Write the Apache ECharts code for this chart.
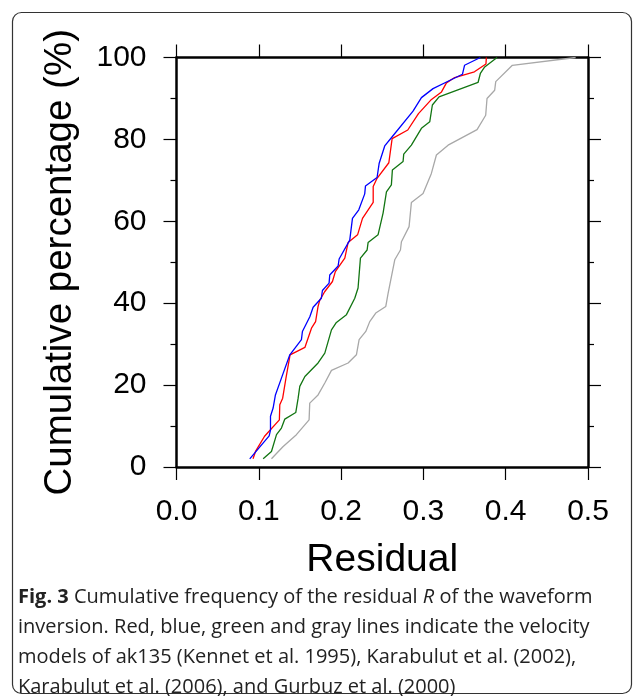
<!DOCTYPE html>
<html>
<head>
<meta charset="utf-8">
<script src="https://cdn.jsdelivr.net/npm/echarts@6/dist/echarts.min.js"></script>
<style>
  html, body { margin: 0; padding: 0; background: #fff; }
  #chart { width: 634px; height: 696px; }
</style>
</head>
<body>
<div id="chart"></div>
<script>
// axis ticks
const xTicks = [0.0, 0.1, 0.2, 0.3, 0.4, 0.5];
const yTicks = [0, 20, 40, 60, 80, 100];

// red: ak135 (Kennet et al. 1995)
const redR = [0.093, 0.096, 0.107, 0.125, 0.1255, 0.129, 0.133, 0.138, 0.156, 0.164, 0.169, 0.172, 0.174, 0.180, 0.1895, 0.193, 0.2045, 0.2085, 0.220, 0.226, 0.239, 0.239, 0.2437, 0.258, 0.262, 0.281, 0.294, 0.309, 0.322, 0.328, 0.338, 0.362, 0.376, 0.3765];
const redP = [2.0, 3.8, 7.5, 11.5, 15.2, 16.8, 21.7, 27.4, 29.2, 33.9, 35.5, 39.2, 40.7, 42.8, 45.3, 47.7, 51.0, 54.8, 56.7, 60.7, 64.6, 68.5, 70.5, 74.3, 80.2, 82.3, 86.3, 89.6, 91.6, 93.8, 95.1, 96.5, 98.4, 100];

// blue: Karabulut et al. (2002)
const blueR = [0.089, 0.1126, 0.1142, 0.1142, 0.1174, 0.1202, 0.1275, 0.1377, 0.1518, 0.153, 0.162, 0.166, 0.176, 0.1773, 0.1854, 0.1862, 0.1964, 0.1976, 0.2105, 0.2138, 0.2215, 0.2287, 0.2296, 0.2437, 0.2462, 0.253, 0.2623, 0.2874, 0.2976, 0.3117, 0.330, 0.3474, 0.350, 0.3692];
const blueP = [2.0, 7.6, 9.0, 12.4, 14.4, 17.6, 21.7, 27.4, 31.1, 33.1, 36.7, 39.0, 41.2, 43.1, 44.9, 46.9, 49.1, 50.8, 55.4, 60.7, 62.8, 66.7, 68.6, 70.7, 74.1, 78.4, 80.7, 86.9, 90.2, 92.4, 94.2, 95.9, 98.1, 100];

// green: Karabulut et al. (2006)
const greenR = [0.1053, 0.1154, 0.1215, 0.1275, 0.1316, 0.1449, 0.1478, 0.1498, 0.156, 0.172, 0.1802, 0.1883, 0.1943, 0.2065, 0.2166, 0.2206, 0.2235, 0.2316, 0.2328, 0.2449, 0.251, 0.2551, 0.2611, 0.2623, 0.2753, 0.2761, 0.2854, 0.2976, 0.3077, 0.3109, 0.319, 0.3664, 0.3692, 0.3745, 0.3895];
const greenP = [2.0, 3.8, 7.9, 9.5, 11.7, 13.3, 16.8, 19.7, 22.1, 25.4, 27.8, 33.5, 35.3, 37.2, 41.2, 43.7, 51.0, 53.0, 54.8, 56.7, 62.0, 67.2, 68.9, 72.5, 74.6, 76.4, 78.6, 82.7, 84.3, 88.4, 90.4, 93.9, 96.1, 97.7, 100];

// gray: Gurbuz et al. (2000)
const grayR = [0.1154, 0.1296, 0.1457, 0.1611, 0.1619, 0.172, 0.1802, 0.1883, 0.2085, 0.2186, 0.2219, 0.230, 0.2348, 0.2421, 0.2543, 0.2571, 0.2652, 0.2721, 0.2733, 0.2826, 0.2854, 0.2996, 0.3097, 0.3158, 0.330, 0.3652, 0.3757, 0.3773, 0.3866, 0.3879, 0.4081, 0.485];
const grayP = [2.0, 5.0, 7.9, 11.5, 15.6, 17.6, 20.5, 23.6, 25.4, 27.4, 31.1, 33.1, 35.5, 37.6, 39.2, 42.4, 50.6, 53.0, 55.0, 58.7, 64.6, 66.8, 71.7, 76.2, 78.6, 82.4, 85.9, 90.0, 92.0, 94.1, 98.1, 100];

const zip = (xs, ys) => xs.map((x, i) => [x, ys[i]]);

const fontFam = '"Liberation Sans", Arial, sans-serif';
const axisCommon = {
  type: 'value',
  axisLine: { show: true, onZero: false, lineStyle: { color: '#000', width: 2.5 } },
  axisTick: { show: true, inside: false, length: 13, lineStyle: { color: '#000', width: 1.2 } },
  splitLine: { show: false }
};

const chart = echarts.init(document.getElementById('chart'), null, { renderer: 'canvas' });

const makeLine = (name, xs, ys, color) => ({
  name: name,
  type: 'line',
  data: zip(xs, ys),
  showSymbol: false,
  symbol: 'none',
  lineStyle: { color: color, width: 1.3 },
  xAxisIndex: 0,
  yAxisIndex: 0
});

chart.setOption({
  animation: false,
  backgroundColor: '#fff',
  grid: { left: 176.5, right: 46, top: 57.5, bottom: 229, containLabel: false },
  xAxis: [
    Object.assign({}, axisCommon, {
      position: 'bottom',
      min: xTicks[0], max: xTicks[xTicks.length - 1], interval: 0.1,
      name: 'Residual',
      nameLocation: 'middle',
      nameGap: 74,
      nameTextStyle: { fontFamily: fontFam, fontSize: 39, color: '#000' },
      axisLabel: {
        margin: 30, fontFamily: fontFam, fontSize: 30, color: '#000',
        formatter: v => v.toFixed(1)
      }
    }),
    Object.assign({}, axisCommon, {
      position: 'top',
      min: xTicks[0], max: xTicks[xTicks.length - 1], interval: 0.1,
      axisLabel: { show: false }
    })
  ],
  yAxis: [
    Object.assign({}, axisCommon, {
      position: 'left',
      min: yTicks[0], max: yTicks[yTicks.length - 1], interval: 20,
      minorTick: { show: true, splitNumber: 2, length: 6, lineStyle: { color: '#000', width: 1.2 } },
      name: 'Cumulative percentage (%)',
      nameLocation: 'middle',
      nameGap: 97,
      nameTextStyle: { fontFamily: fontFam, fontSize: 38.5, color: '#000' },
      axisLabel: { margin: 30, fontFamily: fontFam, fontSize: 30, color: '#000' }
    }),
    Object.assign({}, axisCommon, {
      position: 'right',
      min: yTicks[0], max: yTicks[yTicks.length - 1], interval: 20,
      minorTick: { show: true, splitNumber: 2, length: 6, lineStyle: { color: '#000', width: 1.2 } },
      axisLabel: { show: false }
    })
  ],
  series: [
    makeLine('Gurbuz et al. (2000)', grayR, grayP, '#a8a8a8'),
    makeLine('Karabulut et al. (2006)', greenR, greenP, '#127512'),
    makeLine('ak135', redR, redP, '#ff0000'),
    makeLine('Karabulut et al. (2002)', blueR, blueP, '#0000ff')
  ],
  graphic: [
    {
      type: 'rect',
      shape: { x: 12.5, y: 12.5, width: 619, height: 681, r: 9 },
      style: { fill: 'none', stroke: '#333', lineWidth: 1.2 },
      silent: true
    },
    {
      type: 'text',
      x: 18,
      y: 582,
      style: {
        text: '{b|Fig. 3} Cumulative frequency of the residual {i|R} of the waveform\n' +
              'inversion. Red, blue, green and gray lines indicate the velocity\n' +
              'models of ak135 (Kennet et al. 1995), Karabulut et al. (2002),\n' +
              'Karabulut et al. (2006), and Gurbuz et al. (2000)',
        font: '20px "Open Sans", sans-serif',
        fill: '#222',
        lineHeight: 30,
        rich: {
          b: { font: 'bold 20px "Open Sans", sans-serif', fill: '#222', lineHeight: 30 },
          i: { font: 'italic 20px "Open Sans", sans-serif', fill: '#222', lineHeight: 30 }
        }
      },
      silent: true
    }
  ]
});
</script>
</body>
</html>
